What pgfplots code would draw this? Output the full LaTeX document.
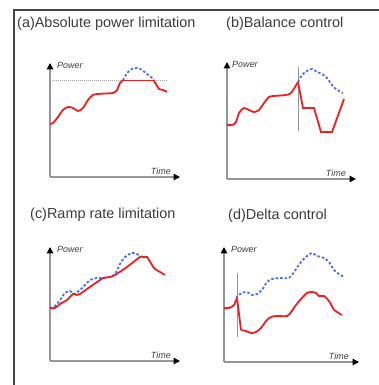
\documentclass[border=0pt]{standalone}
\usepackage{fontspec}
\setmainfont{Liberation Sans}
\usepackage{pgfplots}
\pgfplotsset{compat=1.18}
\usetikzlibrary{arrows.meta}
\definecolor{myred}{RGB}{240,30,30}
\definecolor{myblue}{RGB}{70,110,240}
\definecolor{axgray}{RGB}{150,150,150}
\definecolor{ltgray}{RGB}{165,165,165}
\definecolor{txt}{RGB}{60,60,60}
\definecolor{frame}{RGB}{70,70,70}
\pgfplotsset{
  panel/.style={scale only axis, axis lines=left, xtick=\empty, ytick=\empty,
    axis line style={axgray, line width=1.3bp, -{Triangle[length=6.5bp,width=6.5bp,color=black]}},
    clip=false},
  redl/.style={myred, line width=1.8bp, no markers},
  bluel/.style={myblue, line width=1.8bp, no markers, dash pattern=on 2.5bp off 2bp},
}
\tikzset{lab/.style={font=\fontsize{9}{10}\selectfont\itshape, text=txt, inner sep=0pt},
  ttl/.style={font=\fontsize{14.5}{17}\selectfont, text=txt, inner sep=0pt, anchor=base west}}
\begin{document}
\begin{tikzpicture}
\useasboundingbox (0,0) rectangle (379bp,385bp);
\draw[frame, line width=1.2bp] (14bp,0) -- (14bp,375bp) -- (379bp,375bp);
\node[ttl] at (17bp,357bp) {(a)Absolute power limitation};
\node[ttl] at (226bp,357bp) {(b)Balance control};
\node[ttl] at (30bp,166bp) {(c)Ramp rate limitation};
\node[ttl] at (228bp,165bp) {(d)Delta control};

% (a)
\begin{axis}[panel, width=130bp, height=114bp, at={(50bp,208bp)}, anchor=south west,
  xmin=50, xmax=180, ymin=208, ymax=322]
\addplot[ltgray, line width=0.9bp, dash pattern=on 1bp off 1bp] coordinates {(50,304.5) (167,304.5)};
\addplot[bluel, smooth] coordinates {(123,304.5) (127,312) (132,316) (137,317) (142,315) (147,311) (152,307) (154,304.5)};
\addplot[redl, smooth] coordinates {(50,261) (53,262) (58,268) (63,275) (68,278) (73,277) (78,274) (83,277) (88,285) (93,290) (98,291) (105,291.5) (113,292) (117,295) (120,302) (123,304.5)};
\addplot[redl] coordinates {(123,304.5) (154,304.5)};
\addplot[redl, smooth] coordinates {(154,304.5) (157,299) (159,296) (163,295) (167,293)};
\node[lab, anchor=north west, xshift=7bp, yshift=1bp] at (rel axis cs:0,1) {Power};
\node[lab, anchor=south east, xshift=-9bp, yshift=2bp] at (rel axis cs:1,0) {Time};
\end{axis}

% (b)
\begin{axis}[panel, width=129bp, height=117bp, at={(227bp,206bp)}, anchor=south west,
  xmin=227, xmax=356, ymin=206, ymax=323]
\addplot[axgray, line width=1bp] coordinates {(298,318) (298,254)};
\addplot[bluel, smooth] coordinates {(298,303) (302,310) (307,314) (312,316) (317,313) (322,311) (327,307) (332,300) (336,296) (341,293) (343,292)};
\addplot[redl, smooth] coordinates {(227,260) (232,260) (236,263) (239,272) (244,277) (249,275) (254,273) (259,275) (264,282) (269,288) (274,289) (286,290) (291,292) (295,298) (298,303)};
\addplot[redl] coordinates {(298,303) (303,277) (314,277) (321,253) (332,253) (344,286)};
\node[lab, anchor=north west, xshift=5bp, yshift=1bp] at (rel axis cs:0,1) {Power};
\node[lab, anchor=south east, xshift=-10bp, yshift=2bp] at (rel axis cs:1,0) {Time};
\end{axis}

% (c)
\begin{axis}[panel, width=130bp, height=114bp, at={(50bp,24bp)}, anchor=south west,
  xmin=50, xmax=180, ymin=24, ymax=138]
\addplot[bluel, smooth] coordinates {(50,77) (55,79) (60,85) (65,92) (70,94) (74,91) (80,95) (85,100) (90,105) (97,107) (103,107) (110,108) (115,111) (120,121) (125,128) (132,132) (137,131) (141,128)};
\addplot[redl, smooth] coordinates {(50,77) (55,77) (60,81) (67,85) (73,91) (77,90) (80,91) (87,96) (100,105) (103,107) (110,108) (115,110) (127,118) (140,128) (143,128) (147,128) (149,125) (152,120) (155,116) (160,113) (165,110)};
\node[lab, anchor=north west, xshift=7bp, yshift=1bp] at (rel axis cs:0,1) {Power};
\node[lab, anchor=south east, xshift=-9bp, yshift=2bp] at (rel axis cs:1,0) {Time};
\end{axis}

% (d)
\begin{axis}[panel, width=135bp, height=115bp, at={(224bp,23bp)}, anchor=south west,
  xmin=224, xmax=359, ymin=23, ymax=138]
\addplot[axgray, line width=1bp] coordinates {(237,112) (237,48)};
\addplot[bluel, smooth] coordinates {(224,77) (229,77) (234,80) (237,88) (242,92) (247,93) (252,90) (257,91) (262,95) (267,103) (272,106) (279,107) (289,107) (294,113) (301,123) (307,129) (312,132) (317,129) (324,127) (329,123) (334,115) (339,111) (344,108)};
\addplot[redl, smooth] coordinates {(224,77) (229,77) (234,80) (237,87)};
\addplot[redl] coordinates {(237,87) (241,55)};
\addplot[redl, smooth] coordinates {(241,55) (246,54) (251,52) (256,53) (261,57) (266,64) (271,68) (277,69) (287,69) (291,73) (296,80) (301,86) (307,92) (312,93) (316,92) (319,89) (324,89) (329,84) (334,75) (337,73) (342,70)};
\node[lab, anchor=north west, xshift=7bp, yshift=1bp] at (rel axis cs:0,1) {Power};
\node[lab, anchor=south east, xshift=-10bp, yshift=2bp] at (rel axis cs:1,0) {Time};
\end{axis}
\end{tikzpicture}
\end{document}
